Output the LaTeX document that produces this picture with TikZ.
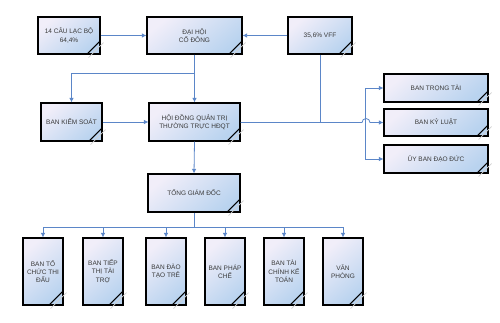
\documentclass[tikz,border=0pt]{standalone}
\usepackage{fontspec}
\setmainfont{Liberation Sans}
\usetikzlibrary{calc,arrows.meta}
\definecolor{lineblue}{HTML}{5B86C8}
\definecolor{txt}{HTML}{3A3A3A}
\definecolor{boxa}{HTML}{F1EEF9}
\definecolor{boxb}{HTML}{B9D3EF}
\tikzset{
  box/.style={draw=black, line width=1.1pt, align=center,
    font=\fontsize{6.5}{8.3}\selectfont, text=txt, inner sep=1pt,
    top color=boxa, bottom color=boxb, shading angle=40},
  conn/.style={draw=lineblue, line width=0.8pt},
  arr/.style={conn, -{Latex[length=4.5pt,width=4.5pt]}},
  darr/.style={conn, {Latex[length=4.5pt,width=4.5pt]}-{Latex[length=4.5pt,width=4.5pt]}},
  fold/.style={line width=1pt, black},
  foldsh/.style={line width=0.8pt, black!18}
}
\begin{document}
\begin{tikzpicture}[x=1pt,y=-1pt]
\useasboundingbox (0,0) rectangle (500,322);
% top row
\node[box, minimum width=62pt, minimum height=37pt] (club) at (69,35.5) {14 CÂU LẠC BỘ\\64,4\%};
\node[box, minimum width=95pt, minimum height=37pt] (dhcd) at (194.5,35.5) {ĐẠI HỘI\\CỔ ĐÔNG};
\node[box, minimum width=64pt, minimum height=37pt] (vff) at (320,35.5) {35,6\% VFF};
% second row
\node[box, minimum width=61pt, minimum height=38pt] (bks) at (71.5,122) {BAN KIỂM SOÁT};
\node[box, minimum width=91pt, minimum height=38pt] (hdqt) at (194.5,122) {HỘI ĐỒNG QUẢN TRỊ\\THƯỜNG TRỰC HĐQT};
% right column
\node[box, minimum width=104pt, minimum height=28pt] (btt) at (436,88) {BAN TRỌNG TÀI};
\node[box, minimum width=104pt, minimum height=27pt] (bkl) at (436,122.5) {BAN KỶ LUẬT};
\node[box, minimum width=104pt, minimum height=28pt] (ubdd) at (436,159) {ỦY BAN ĐẠO ĐỨC};
% TGD
\node[box, minimum width=92pt, minimum height=38pt] (tgd) at (194,193) {TỔNG GIÁM ĐỐC};
% bottom row
\node[box, minimum width=40pt, minimum height=67pt] (b1) at (43,271.5) {BAN TỔ\\CHỨC THI\\ĐẤU};
\node[box, minimum width=40pt, minimum height=67pt] (b2) at (103,271.5) {BAN TIẾP\\THỊ TÀI\\TRỢ};
\node[box, minimum width=40pt, minimum height=67pt] (b3) at (166,271.5) {BAN ĐÀO\\TẠO TRẺ};
\node[box, minimum width=40pt, minimum height=67pt] (b4) at (225,271.5) {BAN PHÁP\\CHẾ};
\node[box, minimum width=40pt, minimum height=67pt] (b5) at (284,271.5) {BAN TÀI\\CHÍNH KẾ\\TOÁN};
\node[box, minimum width=40pt, minimum height=67pt] (b6) at (343,271.5) {VĂN\\PHÒNG};
% folded corners
\foreach \n/\s in {club/14,dhcd/14,vff/14,bks/14,hdqt/14,tgd/14,btt/12,bkl/12,ubdd/12,b1/15,b2/15,b3/15,b4/15,b5/15,b6/15}{
  \draw[foldsh] ($(\n.south east)+(-\s+2,3)$) -- ($(\n.south east)+(3,-\s+2)$);
  \draw[fold] ($(\n.south east)+(-\s,0)$) -- ($(\n.south east)+(0,-\s)$);
}
% connectors
\draw[arr] (club.east) -- (dhcd.west);
\draw[arr] (vff.west) -- (dhcd.east);
\draw[arr] (dhcd.south) -- (hdqt.north);
\draw[arr] (dhcd.south) -- ++(0,19) -| (bks.north);
\draw[arr] (bks.east) -- (hdqt.east -| hdqt.west);
\coordinate (hopl) at (362,122.5);
\draw[arr] (hdqt.east |- bkl.west) -- (hopl) arc[start angle=180, end angle=360, radius=4] -- (bkl.west);
\draw[conn] (vff.south) -- (vff.south |- bkl.west);
\draw[darr] (btt.west) -- ++(-18,0) |- (ubdd.west);
\draw[arr] (hdqt.south) -- (tgd.north);
\draw[conn] (tgd.south) -- ++(0,15) coordinate (bus);
\foreach \b in {b1,b2,b3,b4,b5,b6}{
  \draw[arr] (bus) -| (\b.north);
}
\end{tikzpicture}
\end{document}
